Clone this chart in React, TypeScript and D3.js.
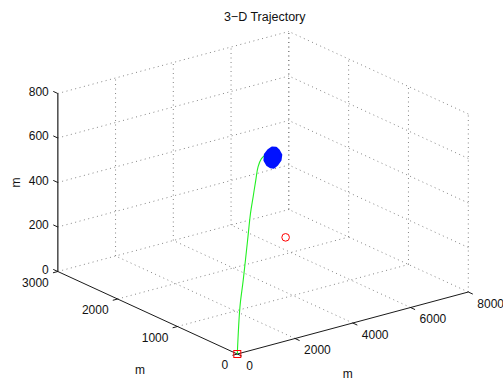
import { useEffect, useRef } from 'react'
import * as d3 from 'd3'

// axis ticks
const xTicks = [0, 2000, 4000, 6000, 8000]
const yTicks = [0, 1000, 2000, 3000]
const zTicks = [0, 200, 400, 600, 800]

// climb (green)
const pathX = [0, 387, 858, 1490, 1919, 2289, 2676, 3004, 3493, 4208]
const pathY = [0, 142, 315, 547, 705, 840, 983, 1103, 1282, 1545]
const pathZ = [0, 182, 263, 392, 479, 523, 566, 600, 598, 560]

// loiter (blue blob)
const loiterX = [4716, 4650, 4560, 4436, 4300, 4176, 4150, 4230, 4330, 4436, 4560, 4680]
const loiterY = [1545, 1550, 1555, 1560, 1555, 1550, 1545, 1540, 1535, 1530, 1535, 1540]
const loiterZ = [540, 560, 575, 580, 574, 560, 535, 512, 500, 495, 503, 518]

const launchPt = [0, 0, 0]
const targetPt = [6605, 2380, 0]

export default function App() {
  const ref = useRef<SVGSVGElement>(null)

  useEffect(() => {
    const svg = d3.select(ref.current!)
    svg.selectAll('*').remove()
    const W = 503, H = 380
    svg.attr('width', W).attr('height', H)

    // projected axis vectors (MATLAB default 3-D view)
    const O = [237.3, 354]
    const Xv = [231, -62], Yv = [-179.5, -82.5], Zv = [0, -178]
    const xs = d3.scaleLinear().domain([0, 8000]).range([0, 1])
    const ys = d3.scaleLinear().domain([0, 3000]).range([0, 1])
    const zs = d3.scaleLinear().domain([0, 800]).range([0, 1])
    const P = (x: number, y: number, z: number): [number, number] => [
      O[0] + xs(x) * Xv[0] + ys(y) * Yv[0] + zs(z) * Zv[0],
      O[1] + xs(x) * Xv[1] + ys(y) * Yv[1] + zs(z) * Zv[1],
    ]
    const font = "'Liberation Sans', Arial, Helvetica, sans-serif"

    const g = svg.append('g')
    const grid = g.append('g').attr('stroke', '#666').attr('stroke-width', 0.8)
      .attr('stroke-dasharray', '1 3.5').attr('fill', 'none')
    const seg = (a: [number, number], b: [number, number]) =>
      grid.append('line').attr('x1', a[0]).attr('y1', a[1]).attr('x2', b[0]).attr('y2', b[1])

    // floor z=0
    xTicks.slice(1).forEach(x => seg(P(x, 0, 0), P(x, 3000, 0)))
    yTicks.slice(1).forEach(y => seg(P(0, y, 0), P(8000, y, 0)))
    // back wall y=3000
    xTicks.slice(1).forEach(x => seg(P(x, 3000, 0), P(x, 3000, 800)))
    zTicks.slice(1).forEach(z => seg(P(0, 3000, z), P(8000, 3000, z)))
    // side wall x=8000
    yTicks.forEach(y => seg(P(8000, y, 0), P(8000, y, 800)))
    zTicks.slice(1).forEach(z => seg(P(8000, 0, z), P(8000, 3000, z)))

    // axes
    const ax = g.append('g').attr('stroke', '#000').attr('stroke-width', 0.9).attr('fill', 'none')
    const line = (a: [number, number], b: [number, number], c = '#000', w = 0.9) =>
      ax.append('line').attr('x1', a[0]).attr('y1', a[1]).attr('x2', b[0]).attr('y2', b[1])
        .attr('stroke', c).attr('stroke-width', w)
    line(P(0, 0, 0), P(8000, 0, 0))
    line(P(0, 0, 0), P(0, 3000, 0))
    line(P(0, 3000, 0), P(0, 3000, 800), '#555', 1.6)

    const tl = 5
    const nX = [0.907, 0.42], nY = [-0.966, 0.26], nZ = [-0.907, -0.42]
    const txt = g.append('g').attr('font-family', font).attr('font-size', 12).attr('fill', '#111')

    xTicks.forEach(x => {
      const p = P(x, 0, 0)
      line(p, [p[0] + nX[0] * tl, p[1] + nX[1] * tl])
      txt.append('text').attr('x', p[0] + 9).attr('y', p[1] + 15.5).text(x)
    })
    yTicks.forEach(y => {
      const p = P(0, y, 0)
      line(p, [p[0] + nY[0] * tl, p[1] + nY[1] * tl])
      txt.append('text').attr('x', p[0] - 9).attr('y', p[1] + 15).attr('text-anchor', 'end').text(y)
    })
    zTicks.forEach(z => {
      const p = P(0, 3000, z)
      line(p, [p[0] + nZ[0] * tl, p[1] + nZ[1] * tl])
      txt.append('text').attr('x', p[0] - 9).attr('y', p[1] + 2).attr('text-anchor', 'end').text(z)
    })

    // axis labels
    txt.append('text').attr('x', 347.7).attr('y', 377.5).attr('text-anchor', 'middle').text('m')
    txt.append('text').attr('x', 140).attr('y', 373.5).attr('text-anchor', 'middle').text('m')
    const zm = P(0, 3000, 400)
    txt.append('text').attr('transform', `translate(${zm[0] - 37.5},${zm[1]}) rotate(-90)`)
      .attr('text-anchor', 'middle').text('m')
    txt.append('text').attr('x', 264.7).attr('y', 21).attr('text-anchor', 'middle')
      .attr('font-size', 12.5).text('3\u2212D Trajectory')

    // climb path
    const climb = pathX.map((x, i) => P(x, pathY[i], pathZ[i]))
    g.append('path').attr('d', d3.line().curve(d3.curveCatmullRom)(climb))
      .attr('fill', 'none').attr('stroke', '#22f022').attr('stroke-width', 1.1)

    // loiter blob
    const loiter = loiterX.map((x, i) => P(x, loiterY[i], loiterZ[i]))
    g.append('path').attr('d', d3.line().curve(d3.curveLinearClosed)(loiter))
      .attr('fill', '#0011ff').attr('stroke', '#0011ff').attr('stroke-width', 2.5)
      .attr('stroke-linejoin', 'round')

    // launch point & target
    const lp = P(launchPt[0], launchPt[1], launchPt[2])
    g.append('rect').attr('x', lp[0] - 3.5).attr('y', lp[1] - 3.5).attr('width', 7).attr('height', 7)
      .attr('fill', 'none').attr('stroke', '#ff0000').attr('stroke-width', 1)
    const tp = P(targetPt[0], targetPt[1], targetPt[2])
    g.append('circle').attr('cx', tp[0]).attr('cy', tp[1]).attr('r', 3.8)
      .attr('fill', 'none').attr('stroke', '#ff0000').attr('stroke-width', 1)
  }, [])

  return <svg ref={ref} style={{ position: 'absolute', left: 0, top: 0, background: '#fff' }} />
}
